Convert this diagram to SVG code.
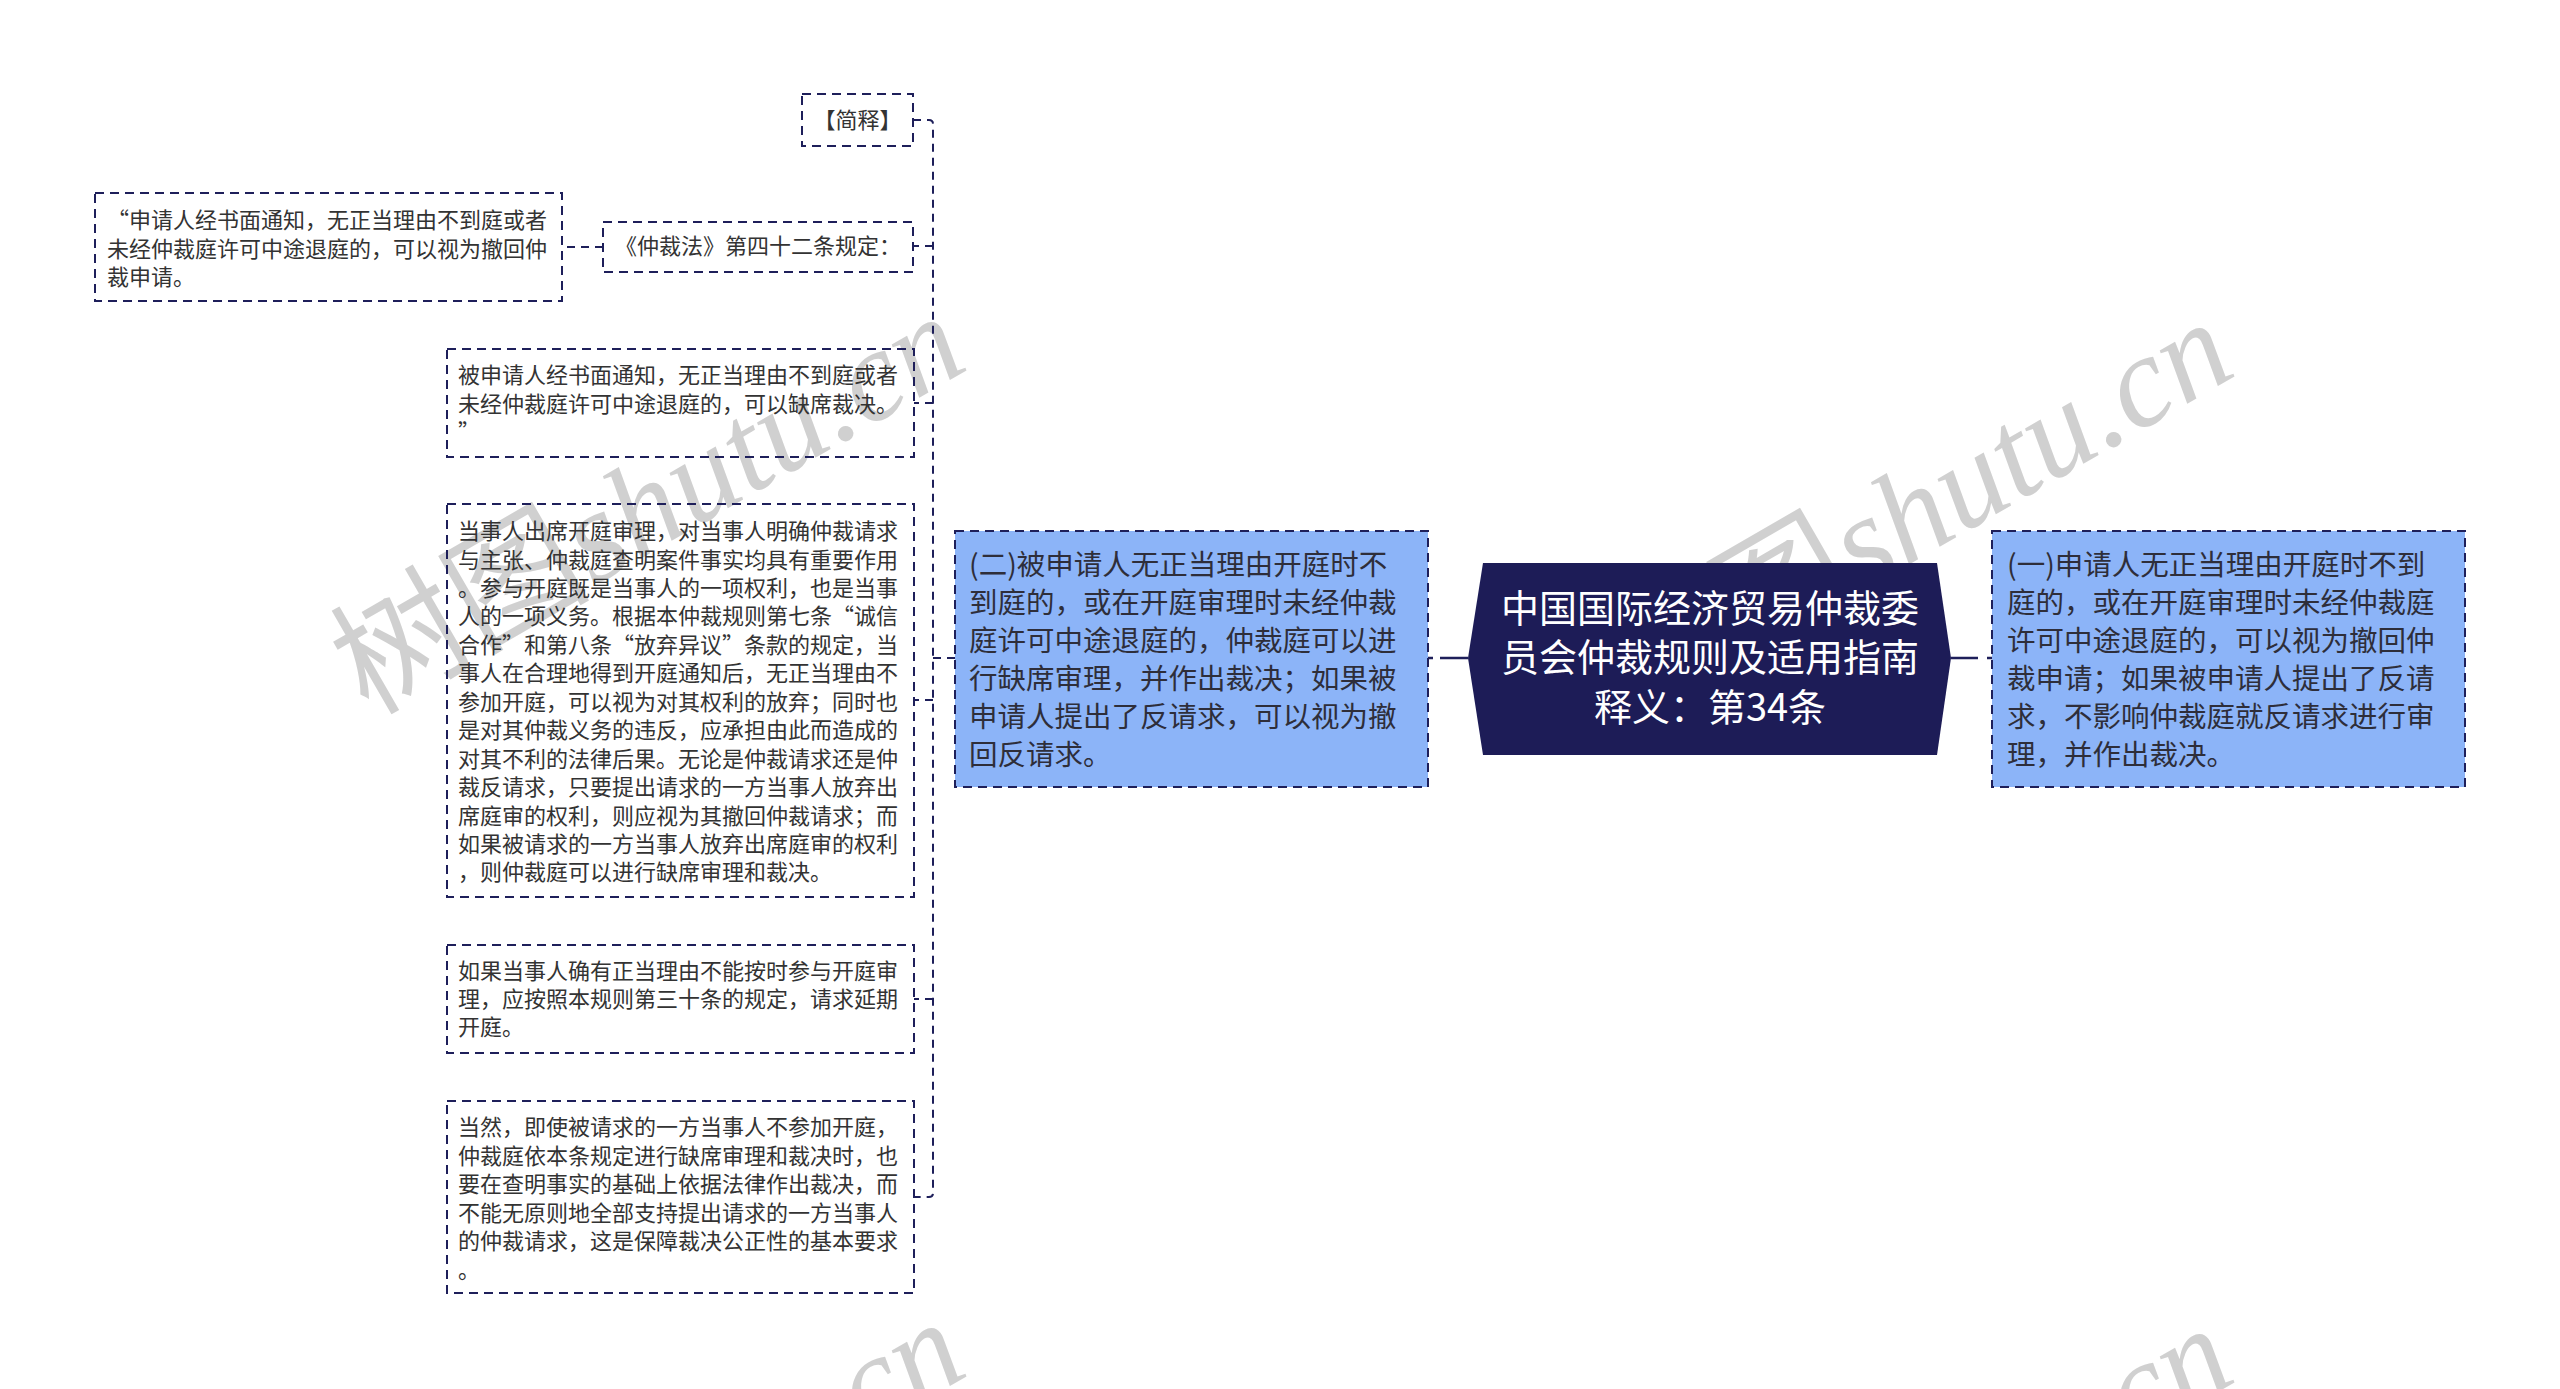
<svg xmlns="http://www.w3.org/2000/svg" width="2560" height="1389" viewBox="0 0 2560 1389">
<style>
.bg{fill:#ffffff}
.box{fill:none;stroke:#1e1f5a;stroke-width:2;stroke-dasharray:9 6}
.main{fill:#8cb4f8;stroke:#1e1f5a;stroke-width:2;stroke-dasharray:9 6}
.center{fill:#1d1c57}
.t{font-family:"Noto Sans CJK SC","Noto Sans",sans-serif;font-size:22px;fill:#333333}
.tm{font-family:"Noto Sans CJK SC","Noto Sans",sans-serif;font-size:28.5px;fill:#2e2e3a}
.tc{font-family:"Noto Sans CJK SC","Noto Sans",sans-serif;font-size:38px;fill:#ffffff;text-anchor:middle}
.ln{fill:none;stroke:#1e1f5a;stroke-width:2;stroke-dasharray:8 6}
.wm{font-family:"Noto Sans CJK SC",sans-serif;font-size:130px;fill:#bdbdbd;opacity:0.7}
.wml{font-family:"Liberation Serif",serif;font-style:italic}
</style>
<defs>
<text id="wmtext" class="wm">树图<tspan class="wml">shutu.cn</tspan></text>
</defs>
<rect class="bg" x="0" y="0" width="2560" height="1389"/>

<g id="watermarks">
<use href="#wmtext" transform="translate(368,716) rotate(-30)"/>
<use href="#wmtext" transform="translate(1636,722) rotate(-30)"/>
<use href="#wmtext" transform="translate(368,1722) rotate(-30)"/>
<use href="#wmtext" transform="translate(1636,1728) rotate(-30)"/>
</g>

<g id="connectors">
<path d="M1468,658 L1428,658" fill="none" stroke="#1e1f5a" stroke-width="2.5" stroke-dasharray="28 7 5 100"/>
<path d="M1951,658 L1992,658" fill="none" stroke="#1e1f5a" stroke-width="2.5" stroke-dasharray="27 9 5 100"/>
<path class="ln" d="M955,658 L933,658"/>
<path class="ln" d="M913,120 L929,120 Q933,120 933,124 L933,1193 Q933,1197 929,1197 L914,1197"/>
<path class="ln" d="M933,246 L913,246"/>
<path class="ln" d="M933,403 L914,403"/>
<path class="ln" d="M933,700 L914,700"/>
<path class="ln" d="M933,999 L914,999"/>
<path class="ln" d="M603,247 L562,247"/>
</g>

<g id="node-center">
<polygon class="center" points="1483,563 1937,563 1951,658 1937,755 1483,755 1468,658"/>
<text class="tc" x="1710" y="622">中国国际经济贸易仲裁委</text>
<text class="tc" x="1710" y="671">员会仲裁规则及适用指南</text>
<text class="tc" x="1710" y="721">释义：第34条</text>
</g>

<g id="node-left-main">
<rect class="main" x="955" y="531" width="473" height="256"/>
<text class="tm" x="969" y="575">(二)被申请人无正当理由开庭时不</text>
<text class="tm" x="969" y="613">到庭的，或在开庭审理时未经仲裁</text>
<text class="tm" x="969" y="651">庭许可中途退庭的，仲裁庭可以进</text>
<text class="tm" x="969" y="689">行缺席审理，并作出裁决；如果被</text>
<text class="tm" x="969" y="727">申请人提出了反请求，可以视为撤</text>
<text class="tm" x="969" y="765">回反请求。</text>
</g>

<g id="node-right-main">
<rect class="main" x="1992" y="531" width="473" height="256"/>
<text class="tm" x="2007" y="575">(一)申请人无正当理由开庭时不到</text>
<text class="tm" x="2007" y="613">庭的，或在开庭审理时未经仲裁庭</text>
<text class="tm" x="2007" y="651">许可中途退庭的，可以视为撤回仲</text>
<text class="tm" x="2007" y="689">裁申请；如果被申请人提出了反请</text>
<text class="tm" x="2007" y="727">求，不影响仲裁庭就反请求进行审</text>
<text class="tm" x="2007" y="765">理，并作出裁决。</text>
</g>

<g id="node-jianshi">
<rect class="box" x="802" y="94" width="111" height="52"/>
<text class="t" x="857.5" y="128" text-anchor="middle">【简释】</text>
</g>

<g id="node-zhongcaifa">
<rect class="box" x="603" y="222" width="310" height="50"/>
<text class="t" x="758" y="254" text-anchor="middle">《仲裁法》第四十二条规定：</text>
</g>

<g id="node-quote1">
<rect class="box" x="95" y="193" width="467" height="108"/>
<text class="t" x="107" y="228">“申请人经书面通知，无正当理由不到庭或者</text>
<text class="t" x="107" y="256.5">未经仲裁庭许可中途退庭的，可以视为撤回仲</text>
<text class="t" x="107" y="285">裁申请。</text>
</g>

<g id="node-quote2">
<rect class="box" x="447" y="349" width="467" height="108"/>
<text class="t" x="458" y="383">被申请人经书面通知，无正当理由不到庭或者</text>
<text class="t" x="458" y="411.5">未经仲裁庭许可中途退庭的，可以缺席裁决。</text>
<text class="t" x="458" y="440">”</text>
</g>

<g id="node-explain">
<rect class="box" x="447" y="504" width="467" height="393"/>
<text class="t" x="458" y="539">当事人出席开庭审理，对当事人明确仲裁请求</text>
<text class="t" x="458" y="567.5">与主张、仲裁庭查明案件事实均具有重要作用</text>
<text class="t" x="458" y="595.9">。参与开庭既是当事人的一项权利，也是当事</text>
<text class="t" x="458" y="624.4">人的一项义务。根据本仲裁规则第七条“诚信</text>
<text class="t" x="458" y="652.8">合作”和第八条“放弃异议”条款的规定，当</text>
<text class="t" x="458" y="681.3">事人在合理地得到开庭通知后，无正当理由不</text>
<text class="t" x="458" y="709.7">参加开庭，可以视为对其权利的放弃；同时也</text>
<text class="t" x="458" y="738.2">是对其仲裁义务的违反，应承担由此而造成的</text>
<text class="t" x="458" y="766.6">对其不利的法律后果。无论是仲裁请求还是仲</text>
<text class="t" x="458" y="795.1">裁反请求，只要提出请求的一方当事人放弃出</text>
<text class="t" x="458" y="823.5">席庭审的权利，则应视为其撤回仲裁请求；而</text>
<text class="t" x="458" y="852">如果被请求的一方当事人放弃出席庭审的权利</text>
<text class="t" x="458" y="880.4">，则仲裁庭可以进行缺席审理和裁决。</text>
</g>

<g id="node-delay">
<rect class="box" x="447" y="945" width="467" height="108"/>
<text class="t" x="458" y="979">如果当事人确有正当理由不能按时参与开庭审</text>
<text class="t" x="458" y="1007">理，应按照本规则第三十条的规定，请求延期</text>
<text class="t" x="458" y="1035">开庭。</text>
</g>

<g id="node-ofcourse">
<rect class="box" x="447" y="1101" width="467" height="192"/>
<text class="t" x="458" y="1135">当然，即使被请求的一方当事人不参加开庭，</text>
<text class="t" x="458" y="1163.5">仲裁庭依本条规定进行缺席审理和裁决时，也</text>
<text class="t" x="458" y="1192">要在查明事实的基础上依据法律作出裁决，而</text>
<text class="t" x="458" y="1220.5">不能无原则地全部支持提出请求的一方当事人</text>
<text class="t" x="458" y="1249">的仲裁请求，这是保障裁决公正性的基本要求</text>
<text class="t" x="458" y="1277.5">。</text>
</g>
</svg>
